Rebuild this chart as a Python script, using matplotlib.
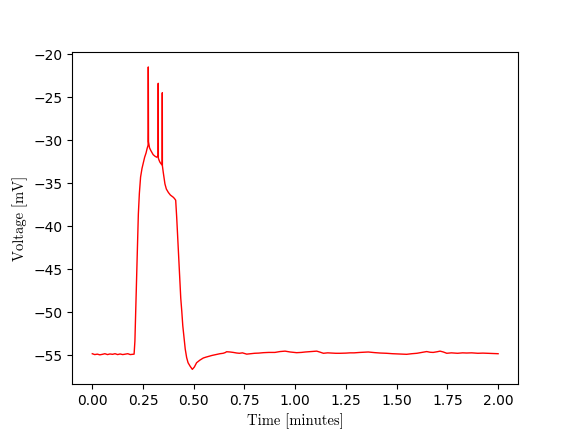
import numpy as np
import matplotlib
matplotlib.use("Agg")
import matplotlib.pyplot as plt

# time in minutes, voltage in mV
t = [0.000, 0.012, 0.025, 0.037, 0.050, 0.062, 0.075, 0.087, 0.100, 0.112, 0.125,
     0.137, 0.150, 0.162, 0.175, 0.187, 0.200, 0.206,
     0.210, 0.216, 0.222, 0.227, 0.232, 0.238, 0.245, 0.251, 0.258, 0.265, 0.270, 0.275,
     0.2755, 0.276, 0.2765, 0.277, 0.282, 0.288, 0.293, 0.300, 0.310, 0.318, 0.3245,
     0.325, 0.3255, 0.330, 0.334, 0.340, 0.3445, 0.345, 0.3455, 0.350,
     0.358, 0.365, 0.375, 0.385, 0.393, 0.399, 0.405, 0.411,
     0.416, 0.420, 0.424, 0.428, 0.432, 0.436, 0.441, 0.446, 0.452, 0.458, 0.465,
     0.472, 0.482, 0.493, 0.503, 0.514, 0.530, 0.547, 0.560, 0.575, 0.590, 0.600,
     0.615, 0.629, 0.645, 0.655, 0.662, 0.679, 0.695, 0.712, 0.725, 0.740, 0.761,
     0.780, 0.800, 0.820, 0.843, 0.870, 0.900, 0.925, 0.950, 0.975, 1.007,
     1.030, 1.050, 1.080, 1.106, 1.120, 1.139, 1.160, 1.180, 1.200, 1.221, 1.250,
     1.270, 1.290, 1.320, 1.340, 1.360, 1.390, 1.418, 1.450, 1.480, 1.510, 1.549,
     1.575, 1.600, 1.625, 1.648, 1.665, 1.680, 1.700, 1.714, 1.730, 1.747, 1.770,
     1.800, 1.825, 1.845, 1.870, 1.900, 1.925, 1.950, 1.975, 2.000]
v = [-54.85, -54.95, -54.90, -54.98, -54.92, -54.85, -54.95, -54.88, -54.92, -54.85, -54.95,
     -54.88, -54.95, -54.90, -54.85, -54.95, -54.92, -54.90,
     -53.40, -48.00, -42.90, -38.60, -36.20, -34.30, -33.30, -32.70, -32.00, -31.50, -31.00, -30.60,
     -29.00, -21.50, -29.20, -30.20, -30.90, -31.20, -31.40, -31.70, -31.90, -32.00, -31.80,
     -23.40, -32.10, -32.40, -32.60, -32.80, -32.90,
     -24.50, -33.00, -33.80,
     -35.10, -35.70, -36.10, -36.40, -36.55, -36.65, -36.80, -37.00,
     -39.00, -40.90, -42.90, -44.80, -46.70, -48.40, -49.90, -51.60, -53.00, -54.30, -55.30,
     -55.90, -56.30, -56.67, -56.40, -55.90, -55.60, -55.35, -55.25, -55.15, -55.05, -55.00,
     -54.92, -54.85, -54.80, -54.72, -54.62, -54.65, -54.70, -54.77, -54.80, -54.75, -54.90,
     -54.85, -54.80, -54.78, -54.73, -54.70, -54.70, -54.60, -54.55, -54.65, -54.73,
     -54.70, -54.65, -54.60, -54.55, -54.65, -54.80, -54.75, -54.78, -54.80, -54.80, -54.78,
     -54.75, -54.75, -54.70, -54.68, -54.65, -54.72, -54.77, -54.80, -54.85, -54.88, -54.92,
     -54.85, -54.80, -54.70, -54.60, -54.68, -54.70, -54.62, -54.55, -54.65, -54.80, -54.75,
     -54.80, -54.75, -54.77, -54.75, -54.80, -54.78, -54.80, -54.82, -54.85]

fig, ax = plt.subplots(figsize=(5.76, 4.32), dpi=100)
ax.plot(np.array(t), np.array(v), color="red", linewidth=1.0)
ax.set_xlabel("Time [minutes]", fontfamily="cmr10", fontsize=10.5)
ax.set_ylabel("Voltage [mV]", fontfamily="cmr10", fontsize=10.5)
fig.savefig("out.png")
